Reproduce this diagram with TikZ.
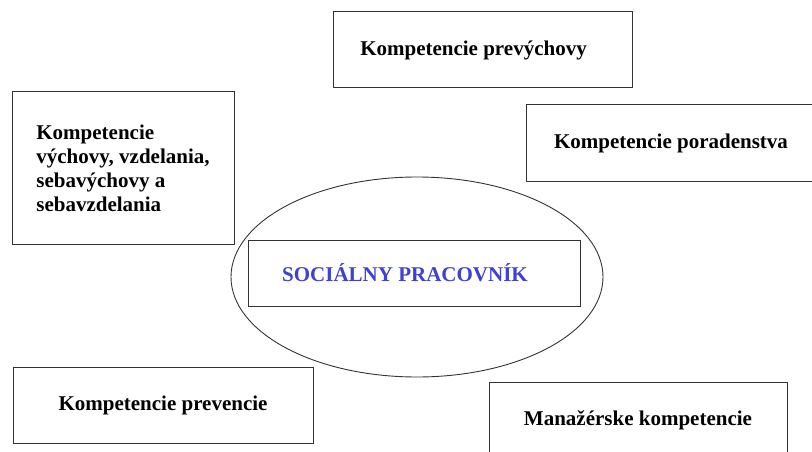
\documentclass[tikz,border=0pt]{standalone}
\usepackage{fontspec}
\setmainfont{Liberation Serif}
\usetikzlibrary{shapes.geometric}
\definecolor{socblue}{RGB}{64,64,210}

\begin{document}
\begin{tikzpicture}[x=1pt, y=-1pt,
  komp/.style={draw=black!80, line width=1pt, rectangle, align=left,
    font=\fontsize{21}{24}\selectfont\bfseries}]
\useasboundingbox (0,0) rectangle (812,452);
\node  (oval)[draw=black!80, line width=0.9pt, ellipse, minimum width=372pt, minimum height=200pt] at (417,277) {};
\node  (prac)[komp, minimum width=332pt, minimum height=66pt, text=socblue] at (414,273) {SOCIÁLNY PRACOVNÍK\hspace*{18pt}};
\node  (prevych)[komp, minimum width=299pt, minimum height=76pt] at (482.5,50) {Kompetencie prevýchovy\hspace*{18pt}};
\node  (vych)[komp, minimum width=222pt, minimum height=152pt] at (123,168) {Kompetencie\\výchovy, vzdelania,\\sebavýchovy a\\sebavzdelania};
\node  (porad)[komp, minimum width=290pt, minimum height=76pt] at (671,143) {Kompetencie poradenstva};
\node  (prevenc)[komp, minimum width=300pt, minimum height=76pt] at (163,405) {Kompetencie prevencie};
\node  (manaz)[komp, minimum width=298pt, minimum height=76pt] at (638,420) {Manažérske kompetencie};
\end{tikzpicture}
\end{document}
